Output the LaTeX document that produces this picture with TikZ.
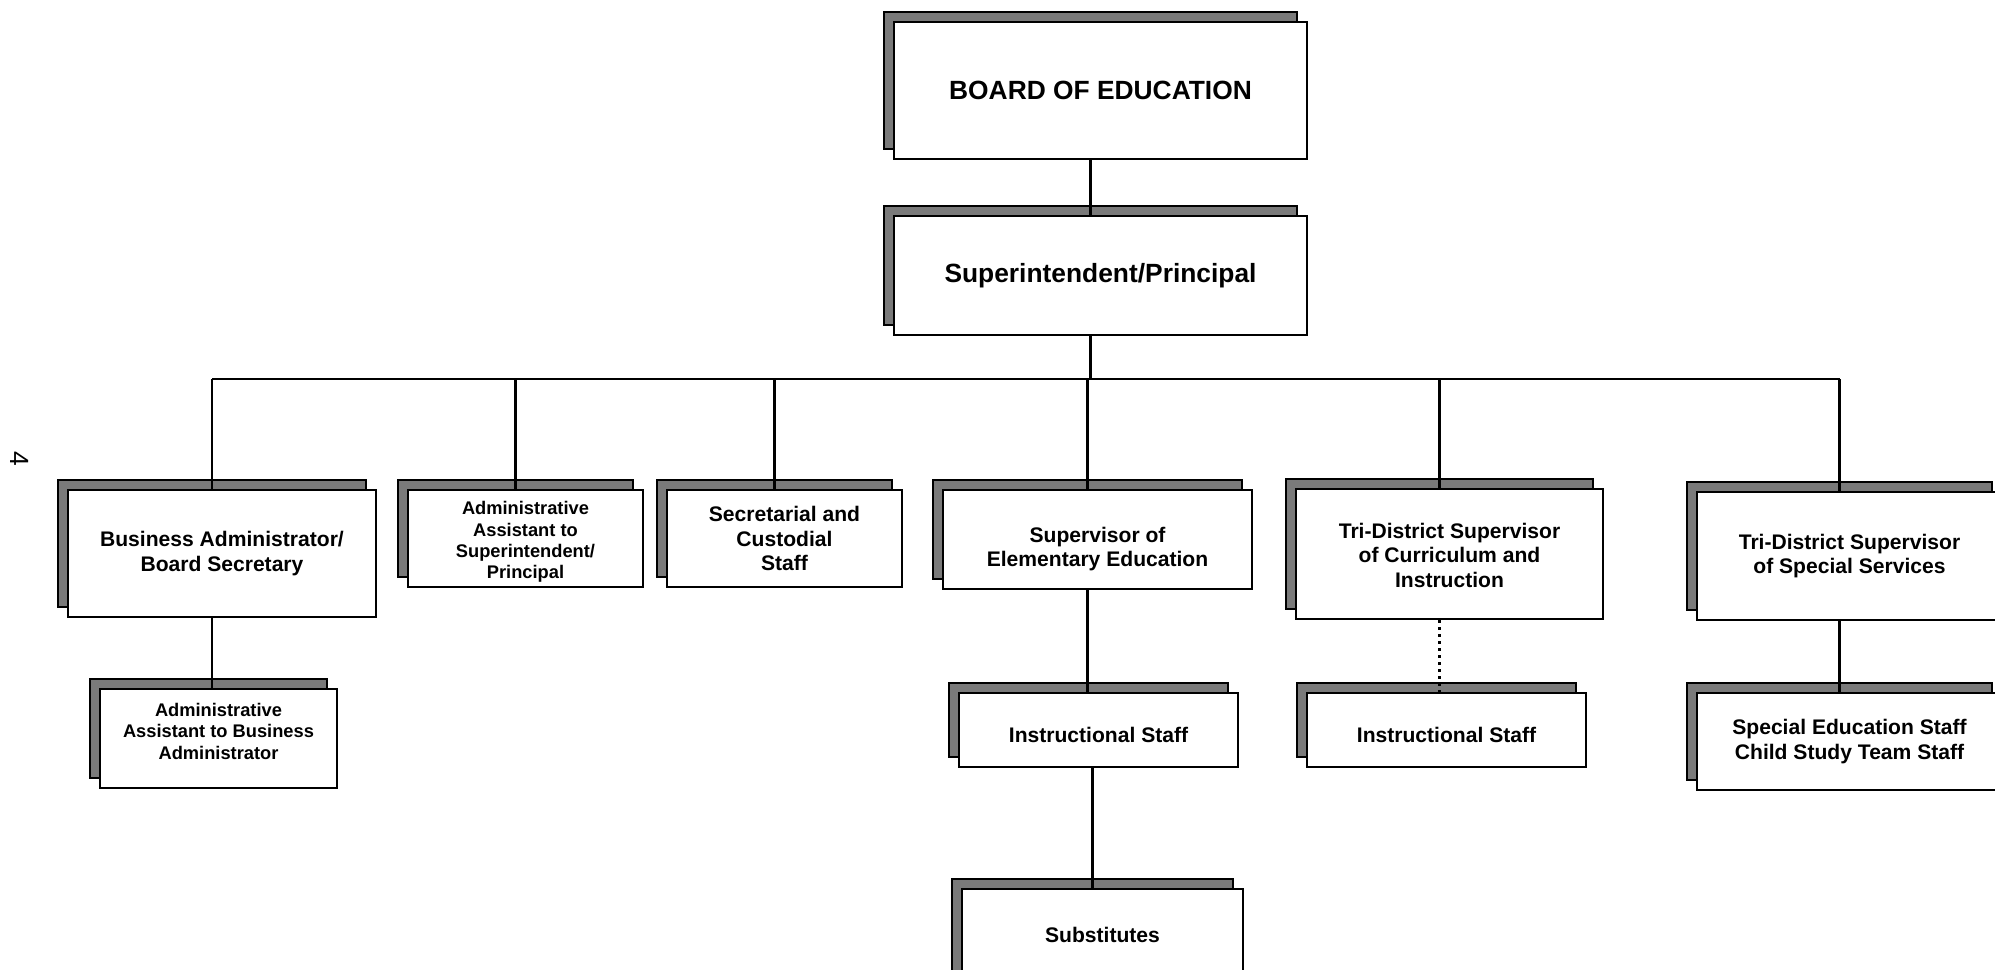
\documentclass[tikz,border=0pt]{standalone}
\usepackage{fontspec}
\setmainfont{Liberation Sans}
\usetikzlibrary{positioning,shadows}

\begin{document}
\begin{tikzpicture}[
    orgbox/.style={draw, fill=white, line width=0.6pt, align=center, inner sep=0pt,
        font=\bfseries\fontsize{6}{7}\selectfont,
        general shadow={fill=black!52, draw=black, shadow xshift=-1mm, shadow yshift=1mm}},
    topbox/.style={orgbox, font=\bfseries\fontsize{7.5}{9}\selectfont},
    tinybox/.style={orgbox, font=\bfseries\fontsize{5.2}{6.1}\selectfont},
    link/.style={line width=0.6pt}
]
    \useasboundingbox (0,0) rectangle (19.95,9.69);
    \clip (0,0) rectangle (19.95,9.69);

    % Page number
    \node[rotate=-90, font=\fontsize{7.5}{9}\selectfont] (pagenum) at (0.20,5.10) {4};

    % Board and superintendent
    \node[topbox, minimum width=4.13cm, minimum height=1.37cm] (boe) at (11.005,8.785) {BOARD OF EDUCATION};
    \node[topbox, minimum width=4.13cm, minimum height=1.19cm] (supt) at (11.005,6.935) {Superintendent/Principal};

    % First row
    \node[orgbox, minimum width=3.08cm, minimum height=1.27cm] (busadm) at (2.22,4.155) {Business Administrator/\\Board Secretary};
    \node[tinybox, minimum width=2.35cm, minimum height=0.97cm] (asstsup) at (5.255,4.305)
        {\raisebox{-0.4mm}[\height][\depth]{\begin{tabular}{@{}c@{}}Administrative\\Assistant to\\Superintendent/\\Principal\end{tabular}}};
    \node[orgbox, minimum width=2.35cm, minimum height=0.97cm] (secr) at (7.845,4.305) {Secretarial and\\Custodial\\Staff};
    \node[orgbox, minimum width=3.09cm, minimum height=0.99cm] (elem) at (10.975,4.295)
        {\raisebox{-1mm}[\height][\depth]{\begin{tabular}{@{}c@{}}Supervisor of\\Elementary Education\end{tabular}}};
    \node[orgbox, minimum width=3.07cm, minimum height=1.30cm] (tricur) at (14.495,4.15)
        {\raisebox{-0.4mm}[\height][\depth]{\begin{tabular}{@{}c@{}}Tri-District Supervisor\\of Curriculum and\\Instruction\end{tabular}}};
    \node[orgbox, minimum width=3.05cm, minimum height=1.28cm] (spec) at (18.495,4.13) {Tri-District Supervisor\\of Special Services};

    % Second row
    \node[tinybox, minimum width=2.37cm, minimum height=0.99cm] (asstba) at (2.185,2.305)
        {\raisebox{0.5mm}[\height][\depth]{\begin{tabular}{@{}c@{}}Administrative\\Assistant to Business\\Administrator\end{tabular}}};
    \node[orgbox, minimum width=2.79cm, minimum height=0.74cm] (instr1) at (10.985,2.39) {\raisebox{-0.5mm}[\height][\depth]{Instructional Staff}};
    \node[orgbox, minimum width=2.79cm, minimum height=0.74cm] (instr2) at (14.465,2.39) {\raisebox{-0.5mm}[\height][\depth]{Instructional Staff}};
    \node[orgbox, minimum width=3.05cm, minimum height=0.97cm] (specstaff) at (18.495,2.275) {Special Education Staff\\Child Study Team Staff};

    % Third row
    \node[orgbox, minimum width=2.81cm, minimum height=0.92cm] (subs) at (11.025,0.34) {Substitutes};

    % Connectors
    \coordinate (bus) at (0,5.90);
    \draw[link] ([xshift=-1mm]boe.south) -- ([xshift=-1mm]supt.north);
    \draw[link] ([xshift=-1mm]supt.south) -- ([xshift=-1mm]supt.south |- bus);
    \draw[link] ([xshift=-1mm]busadm.north |- bus) -- ([xshift=-1mm]spec.north |- bus);
    \foreach \n in {busadm,asstsup,secr,elem,tricur,spec}
        \draw[link] ([xshift=-1mm]\n.north) -- ([xshift=-1mm]\n.north |- bus);
    \draw[link] ([xshift=-1mm]busadm.south) -- ([xshift=-1mm]busadm.south |- asstba.north);
    \draw[link] ([xshift=-1mm]elem.south) -- ([xshift=-1mm]elem.south |- instr1.north);
    \draw[link] ([xshift=-0.6mm]instr1.south) -- ([xshift=-0.6mm]instr1.south |- subs.north);
    \draw[line width=0.8pt, dash pattern=on 0.8pt off 1.2pt] ([xshift=-1mm]tricur.south) -- ([xshift=-1mm]tricur.south |- instr2.north);
    \draw[link] ([xshift=-1mm]spec.south) -- ([xshift=-1mm]spec.south |- specstaff.north);
\end{tikzpicture}
\end{document}
